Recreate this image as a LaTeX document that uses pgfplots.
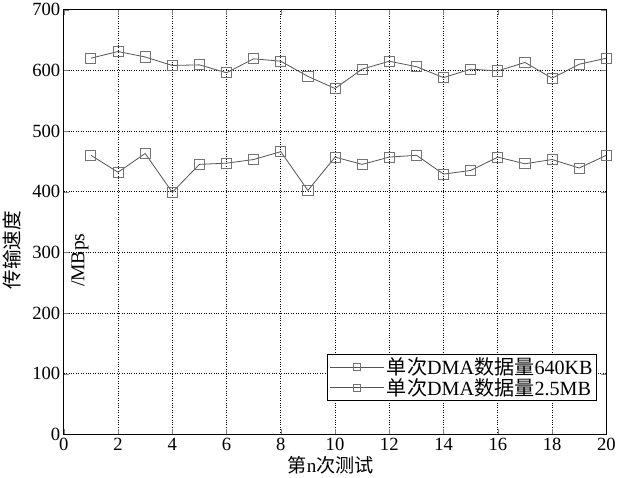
\documentclass[border=0pt]{standalone}
\usepackage{fontspec}
\setmainfont{Liberation Serif}
\newfontfamily\cjk{Noto Sans CJK SC}
\usepackage{pgfplots}
\pgfplotsset{compat=1.18}
\definecolor{lineg}{gray}{0.33}
\definecolor{markg}{gray}{0.45}

\begin{document}
\begin{tikzpicture}
\begin{axis}[
  width=539pt, height=422pt, scale only axis,
  xmin=0, xmax=20, ymin=0, ymax=700,
  xtick={0,2,...,20}, ytick={0,100,...,700},
  /pgf/number format/assume math mode=true,
  tick label style={font=\fontsize{18.5}{18.5}\selectfont},
  tick align=inside,
  major tick length=5pt,
  axis line style={line width=1.3pt},
  grid=major,
  grid style={dotted, black, line width=0.8pt},
  xlabel={{\cjk 第}n{\cjk 次测试}},
  xlabel style={font=\fontsize{19}{19}\selectfont, at={(rel axis cs:0.492,-0.073)}, anchor=center},
  ylabel={\cjk 传输速度},
  ylabel style={font=\fontsize{19.5}{19.5}\selectfont, at={(rel axis cs:-0.0946,0.434)}, anchor=center},
  legend cell align=left,
  legend style={at={(rel axis cs:0.983,0.078)}, anchor=south east,
    draw=black, line width=0.8pt, fill=white, inner sep=2pt,
    font=\fontsize{20}{20}\selectfont, row sep=-2pt},
  legend image code/.code={
    \draw[#1, mark size=3.5pt, mark repeat=2, mark phase=2]
      plot coordinates {(0cm,0cm) (0.95cm,0cm) (1.9cm,0cm)};},
]
\addplot[lineg, line width=0.8pt, mark=square, mark size=5pt,
  mark options={draw=markg, line width=0.9pt}] coordinates {
  (1,620) (2,631) (3,622) (4,608) (5,609) (6,596) (7,619) (8,615) (9,590) (10,570)
  (11,602) (12,615) (13,606) (14,588) (15,602) (16,599) (17,613) (18,587) (19,610) (20,620)};
\addlegendentry{{\cjk 单次}DMA{\cjk 数据量}640KB}
\addplot[lineg, line width=0.8pt, mark=square, mark size=5pt,
  mark options={draw=markg, line width=0.9pt}] coordinates {
  (1,460) (2,432) (3,463) (4,399) (5,445) (6,447) (7,453) (8,466) (9,402) (10,457)
  (11,445) (12,457) (13,460) (14,429) (15,435) (16,457) (17,446) (18,453) (19,439) (20,460)};
\addlegendentry{{\cjk 单次}DMA{\cjk 数据量}2.5MB}
\node[rotate=90, font=\fontsize{19.5}{19.5}\selectfont] at (rel axis cs:0.030,0.41) {/MBps};
\end{axis}
\end{tikzpicture}
\end{document}
